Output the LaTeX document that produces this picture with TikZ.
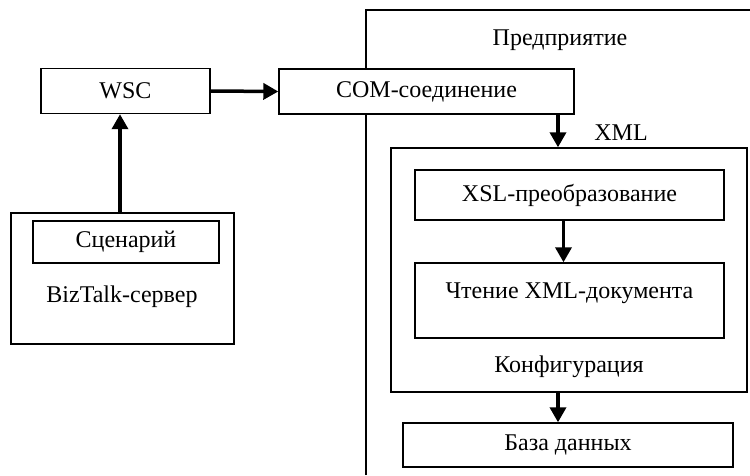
\documentclass[tikz,border=0pt]{standalone}
\usepackage{fontspec}
\setmainfont{Liberation Serif}
\usetikzlibrary{arrows.meta}

\tikzset{
  blk/.style={draw, fill=white, line width=1.4pt, inner sep=0pt},
  lbl/.style={inner sep=0pt},
  arr/.style={line width=3.5pt, -{Triangle[length=15pt,width=16pt]}}
}

\begin{document}
\begin{tikzpicture}[x=1pt, y=-1pt, font=\fontsize{24}{28}\selectfont]

\useasboundingbox (0,0) rectangle (750,475);

% enterprise boundary
\draw [line width=1.4pt] (366,475) -- (366,10) -- (750,10);
\node [lbl] (ent) at (560,40) {Предприятие};

\node [blk, minimum width=169pt, minimum height=45pt] (wsc) at (125.5,91) {WSC};
\node [blk, minimum width=295pt, minimum height=45pt] (com) at (426.5,91.5) {COM-соединение};

\node [blk, minimum width=223pt, minimum height=131pt] (biz) at (122.5,278.5) {};
\node [blk, minimum width=186pt, minimum height=42pt] (scen) at (126,242) {Сценарий};
\node [lbl] (biztxt) at (122,297) {BizTalk-сервер};

\node [blk, minimum width=356pt, minimum height=244pt] (conf) at (569,270) {};
\node [lbl] (conftxt) at (569,367) {Конфигурация};
\node [blk, minimum width=309pt, minimum height=50pt] (xsl) at (569.5,195) {XSL-преобразование};
\node [blk, minimum width=309pt, minimum height=75pt] (read) at (569.5,300.5) {};
\node [lbl] (readtxt) at (569.5,293) {Чтение XML-документа};

\node [blk, minimum width=330pt, minimum height=44pt] (db) at (568,445) {База данных};

\node [lbl] (xml) at (621,133) {XML};

\coordinate (xmlin) at ([xshift=-11pt]conf.north);
\coordinate (dbin) at ([xshift=-10pt]db.north);

\draw [arr] (wsc.east) -- (com.west);
\draw [arr] ([xshift=-2.5pt]biz.north) -- ([xshift=-2.5pt]biz.north |- wsc.south);
\draw [arr] (com.south -| xmlin) -- (xmlin);
\draw [arr] ([xshift=-6pt]xsl.south) -- ([xshift=-6pt]read.north);
\draw [arr] (conf.south -| dbin) -- (dbin);

\end{tikzpicture}
\end{document}
